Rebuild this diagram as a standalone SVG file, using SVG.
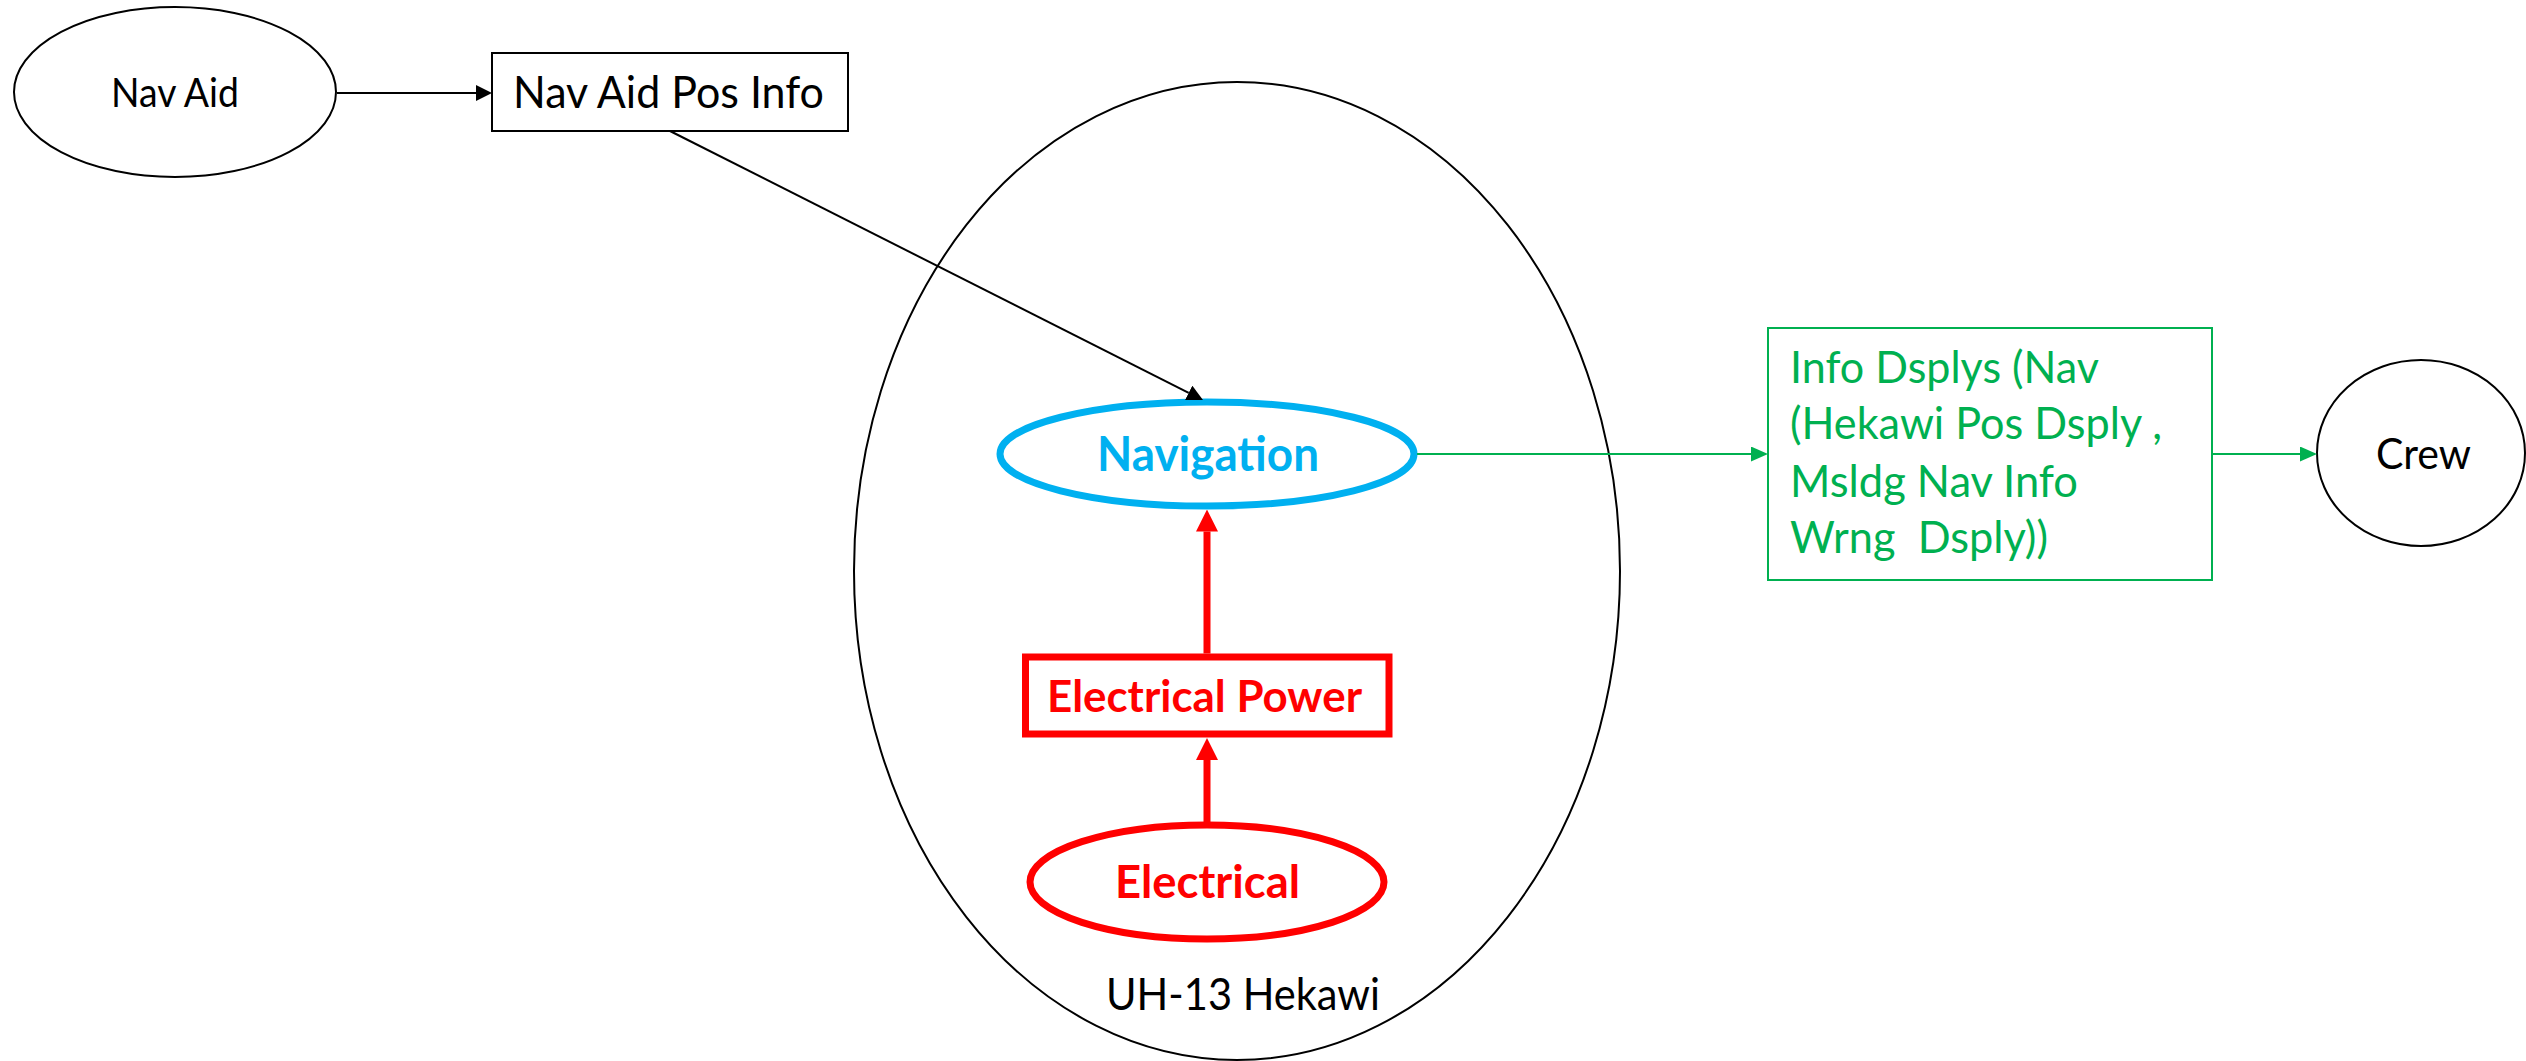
<svg xmlns="http://www.w3.org/2000/svg" width="2526" height="1061" viewBox="0 0 2526 1061">
<style>
  .bg { fill: #ffffff; }
  .thin { fill: #ffffff; stroke: #000000; stroke-width: 2; }
  .txt { font-family: Lato, "Open Sans", "Liberation Sans", sans-serif; }
  .blk { fill: #000000; }
  .grn { fill: #00B050; }
  .blue { fill: #00B0F0; font-weight: bold; }
  .red { fill: #FF0000; font-weight: bold; }
  .c-blk { stroke: #000000; stroke-width: 2; fill: none; }
  .c-grn { stroke: #00B050; stroke-width: 2; fill: none; }
  .c-red { stroke: #FF0000; stroke-width: 7; fill: none; }
</style>
<defs>
  <marker id="ahBlack" markerUnits="userSpaceOnUse" viewBox="0 0 16 16" markerWidth="16" markerHeight="16" refX="0" refY="8" orient="auto">
    <path d="M0,0 L16,8 L0,16 z" fill="#000000"/>
  </marker>
  <marker id="ahGreen" markerUnits="userSpaceOnUse" viewBox="0 0 17 15" markerWidth="17" markerHeight="15" refX="0" refY="7.5" orient="auto">
    <path d="M0,0 L17,7.5 L0,15 z" fill="#00B050"/>
  </marker>
  <marker id="ahRed" markerUnits="userSpaceOnUse" viewBox="0 0 22 22" markerWidth="22" markerHeight="22" refX="0" refY="11" orient="auto">
    <path d="M0,0 L22,11 L0,22 z" fill="#FF0000"/>
  </marker>
</defs>
<rect class="bg" x="0" y="0" width="2526" height="1061"/>

<g id="uh13-hekawi">
  <ellipse cx="1237" cy="571" rx="383" ry="489" fill="none" stroke="#000000" stroke-width="2"/>
  <text class="txt blk" x="1106" y="1010" font-size="44" textLength="274" lengthAdjust="spacingAndGlyphs">UH-13 Hekawi</text>
</g>

<g id="nav-aid">
  <ellipse class="thin" cx="175" cy="92" rx="161" ry="85"/>
  <text class="txt blk" x="111" y="107" font-size="40" textLength="128" lengthAdjust="spacingAndGlyphs">Nav Aid</text>
</g>

<g id="nav-aid-pos-info">
  <rect class="thin" x="492" y="53" width="356" height="78"/>
  <text class="txt blk" x="513" y="108" font-size="44" textLength="311" lengthAdjust="spacingAndGlyphs">Nav Aid Pos Info</text>
</g>

<g id="navigation">
  <ellipse cx="1207" cy="454" rx="207" ry="52" fill="#ffffff" stroke="#00B0F0" stroke-width="7"/>
  <text class="txt blue" x="1097" y="471" font-size="47" textLength="222" lengthAdjust="spacingAndGlyphs">Navigation</text>
</g>

<g id="electrical-power">
  <rect x="1025.5" y="657" width="363.5" height="77" fill="#ffffff" stroke="#FF0000" stroke-width="7"/>
  <text class="txt red" x="1047" y="712" font-size="44" textLength="315" lengthAdjust="spacingAndGlyphs">Electrical Power</text>
</g>

<g id="electrical">
  <ellipse cx="1207" cy="882" rx="177" ry="57" fill="#ffffff" stroke="#FF0000" stroke-width="7"/>
  <text class="txt red" x="1115" y="898" font-size="45" textLength="185" lengthAdjust="spacingAndGlyphs">Electrical</text>
</g>

<g id="info-displays">
  <rect x="1768" y="328" width="444" height="252" fill="#ffffff" stroke="#00B050" stroke-width="2"/>
  <text class="txt grn" font-size="44" xml:space="preserve"><tspan x="1790" y="383" textLength="309" lengthAdjust="spacingAndGlyphs">Info Dsplys (Nav</tspan><tspan x="1790" y="439" textLength="372" lengthAdjust="spacingAndGlyphs">(Hekawi Pos Dsply ,</tspan><tspan x="1790" y="497" textLength="288" lengthAdjust="spacingAndGlyphs">Msldg Nav Info</tspan><tspan x="1790" y="553" textLength="258" lengthAdjust="spacingAndGlyphs">Wrng  Dsply))</tspan></text>
</g>

<g id="crew">
  <ellipse class="thin" cx="2421" cy="453" rx="104" ry="93"/>
  <text class="txt blk" x="2376" y="469" font-size="42" textLength="95" lengthAdjust="spacingAndGlyphs">Crew</text>
</g>

<g id="connectors">
  <path class="c-blk" d="M337,93 L476,93" marker-end="url(#ahBlack)"/>
  <path class="c-blk" d="M670,131 L1188.7,392.8" marker-end="url(#ahBlack)"/>
  <path class="c-grn" d="M1417,454 L1751,454" marker-end="url(#ahGreen)"/>
  <path class="c-grn" d="M2212,454 L2300,454" marker-end="url(#ahGreen)"/>
  <path class="c-red" d="M1207,653.5 L1207,531.5" marker-end="url(#ahRed)"/>
  <path class="c-red" d="M1207,822 L1207,760" marker-end="url(#ahRed)"/>
</g>
</svg>
